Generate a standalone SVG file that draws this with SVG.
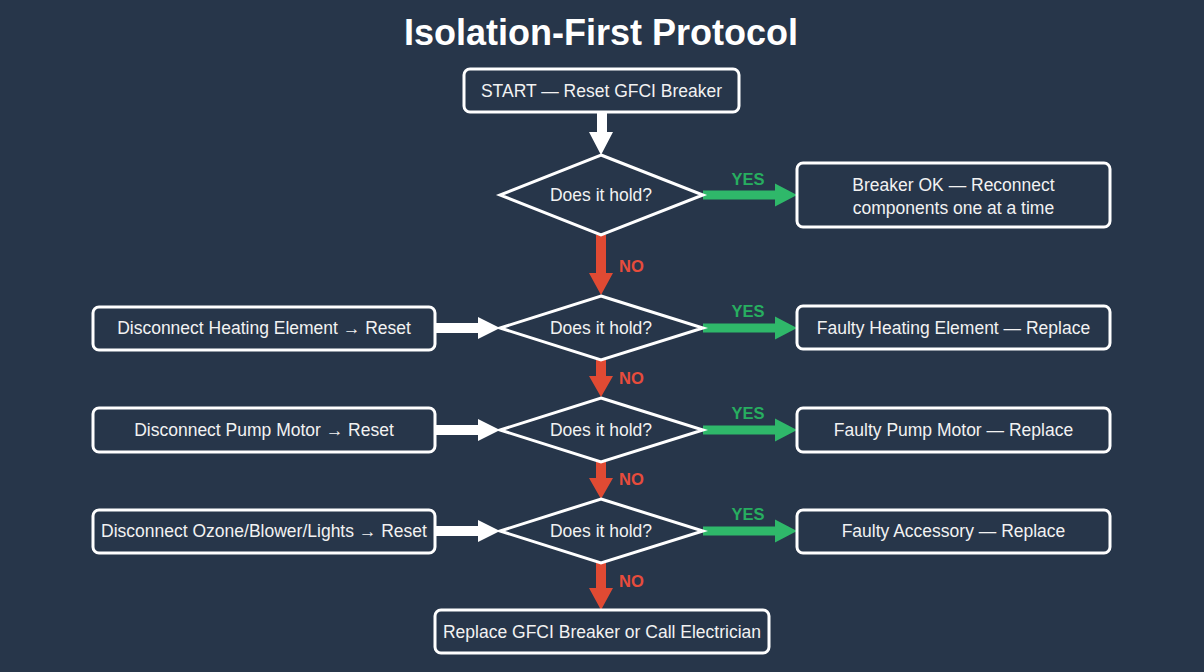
<svg xmlns="http://www.w3.org/2000/svg" width="1204" height="672" viewBox="0 0 1204 672">
<style>
.box{fill:#27364a;stroke:#ffffff;stroke-width:3}
.t{font-family:"Liberation Sans",Arial,sans-serif;font-size:17.5px;fill:#f2f2f2;text-anchor:middle}
.title{font-family:"Liberation Sans",Arial,sans-serif;font-size:36px;font-weight:bold;fill:#ffffff;text-anchor:middle}
.yes{font-family:"Liberation Sans",Arial,sans-serif;font-size:16.5px;font-weight:bold;fill:#27ae60;text-anchor:middle}
.no{font-family:"Liberation Sans",Arial,sans-serif;font-size:16.5px;font-weight:bold;fill:#e74c3c}
.wa{fill:#ffffff}
.ga{fill:#2fb86a}
.ra{fill:#e04a33}
</style>
<rect x="0" y="0" width="1204" height="672" fill="#27364a"/>
<text class="title" x="601" y="45">Isolation-First Protocol</text>

<g id="connectors">
  <!-- start to diamond 1 -->
  <path class="wa" d="M597,112 H607 V132 H613 L601,155 L589,132 H597 Z"/>
  <!-- NO arrows -->
  <path class="ra" d="M596,235 H606 V273 H613 L601,295 L589,273 H596 Z"/>
  <path class="ra" d="M596,359 H606 V376 H613 L601,397 L589,376 H596 Z"/>
  <path class="ra" d="M596,462 H606 V478 H613 L601,499 L589,478 H596 Z"/>
  <path class="ra" d="M596,563 H606 V588 H613 L601,610 L589,588 H596 Z"/>
  <!-- YES arrows -->
  <path class="ga" d="M703,190.5 H775 V183.5 L797,195 L775,206.5 V199.5 H703 Z"/>
  <path class="ga" d="M703,323.5 H775 V316.5 L797,328 L775,339.5 V332.5 H703 Z"/>
  <path class="ga" d="M703,425.5 H775 V418.5 L797,430 L775,441.5 V434.5 H703 Z"/>
  <path class="ga" d="M703,526.5 H775 V519.5 L797,531 L775,542.5 V535.5 H703 Z"/>
  <!-- white arrows from left boxes -->
  <path class="wa" d="M435,323 H478 V317 L500,328 L478,339 V333 H435 Z"/>
  <path class="wa" d="M435,425 H478 V419 L500,430 L478,441 V435 H435 Z"/>
  <path class="wa" d="M435,526 H478 V520 L500,531 L478,542 V536 H435 Z"/>
  <!-- labels -->
  <text class="yes" x="748" y="185">YES</text>
  <text class="yes" x="748" y="317">YES</text>
  <text class="yes" x="748" y="419">YES</text>
  <text class="yes" x="748" y="520">YES</text>
  <text class="no" x="619" y="272">NO</text>
  <text class="no" x="619" y="384">NO</text>
  <text class="no" x="619" y="485">NO</text>
  <text class="no" x="619" y="587">NO</text>
</g>

<g id="start">
  <rect class="box" x="464" y="69" width="275" height="43" rx="6"/>
  <text class="t" x="601.5" y="97">START — Reset GFCI Breaker</text>
</g>

<g id="d1">
  <polygon class="box" points="601,155 703,195 601,235 500,195"/>
  <text class="t" x="601" y="201">Does it hold?</text>
</g>
<g id="ok">
  <rect class="box" x="797" y="163" width="313" height="64" rx="6"/>
  <text class="t" x="953.5" y="191">Breaker OK — Reconnect</text>
  <text class="t" x="953.5" y="214">components one at a time</text>
</g>

<g id="heat">
  <rect class="box" x="93" y="307" width="342" height="43" rx="6"/>
  <text class="t" x="264" y="334">Disconnect Heating Element → Reset</text>
</g>
<g id="d2">
  <polygon class="box" points="601,296 703,328 601,360 500,328"/>
  <text class="t" x="601" y="334">Does it hold?</text>
</g>
<g id="faultyheat">
  <rect class="box" x="797" y="306" width="313" height="43" rx="6"/>
  <text class="t" x="953.5" y="334">Faulty Heating Element — Replace</text>
</g>

<g id="pump">
  <rect class="box" x="93" y="408" width="342" height="44" rx="6"/>
  <text class="t" x="264" y="436">Disconnect Pump Motor → Reset</text>
</g>
<g id="d3">
  <polygon class="box" points="601,398 703,430 601,462 500,430"/>
  <text class="t" x="601" y="436">Does it hold?</text>
</g>
<g id="faultypump">
  <rect class="box" x="797" y="408" width="313" height="44" rx="6"/>
  <text class="t" x="953.5" y="436">Faulty Pump Motor — Replace</text>
</g>

<g id="ozone">
  <rect class="box" x="93" y="510" width="342" height="43" rx="6"/>
  <text class="t" x="264" y="537">Disconnect Ozone/Blower/Lights → Reset</text>
</g>
<g id="d4">
  <polygon class="box" points="601,499 703,531 601,563 500,531"/>
  <text class="t" x="601" y="537">Does it hold?</text>
</g>
<g id="faultyacc">
  <rect class="box" x="797" y="510" width="313" height="43" rx="6"/>
  <text class="t" x="953.5" y="537">Faulty Accessory — Replace</text>
</g>

<g id="final">
  <rect class="box" x="435" y="610" width="334" height="43" rx="6"/>
  <text class="t" x="602" y="638">Replace GFCI Breaker or Call Electrician</text>
</g>
</svg>
